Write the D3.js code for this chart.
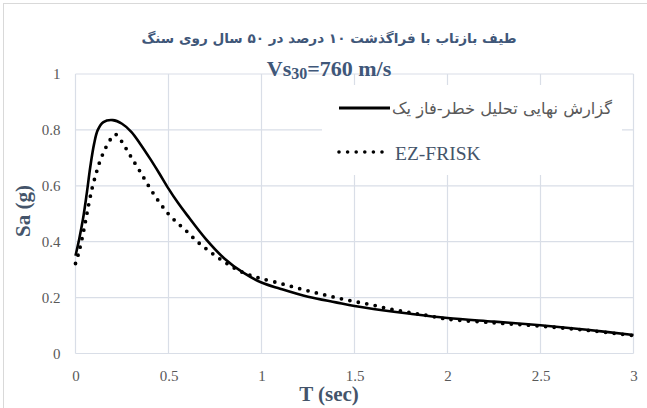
<!DOCTYPE html>
<html><head><meta charset="utf-8">
<script src="https://cdn.jsdelivr.net/npm/d3@7/dist/d3.min.js"></script>
<style>body{margin:0;background:#fff}svg{display:block}</style>
</head><body>
<svg id="c" width="647" height="408"></svg>
<script>
// ---- data ----
const reportT  = [0, 0.02, 0.04, 0.06, 0.08, 0.10, 0.12, 0.15, 0.20, 0.25, 0.30, 0.35, 0.40, 0.45, 0.50, 0.55, 0.60, 0.70, 0.80, 0.90, 1.00, 1.10, 1.25, 1.40, 1.50, 1.65, 1.80, 2.00, 2.25, 2.50, 2.75, 3.00];
const reportSa = [0.35, 0.41, 0.48, 0.57, 0.67, 0.75, 0.80, 0.828, 0.835, 0.822, 0.793, 0.748, 0.698, 0.645, 0.59, 0.54, 0.495, 0.41, 0.34, 0.29, 0.254, 0.232, 0.203, 0.183, 0.17, 0.155, 0.142, 0.127, 0.114, 0.101, 0.085, 0.066];
const ezT  = [0, 0.015, 0.03, 0.05, 0.07, 0.09, 0.11, 0.13, 0.16, 0.19, 0.215, 0.25, 0.28, 0.31, 0.35, 0.40, 0.45, 0.50, 0.55, 0.60, 0.65, 0.70, 0.75, 0.80, 0.85, 0.90, 0.95, 1.00, 1.10, 1.20, 1.30, 1.40, 1.50, 1.60, 1.70, 1.80, 1.90, 2.00, 2.25, 2.50, 2.75, 3.00];
const ezSa = [0.322, 0.355, 0.395, 0.46, 0.53, 0.593, 0.642, 0.685, 0.733, 0.768, 0.784, 0.757, 0.724, 0.691, 0.648, 0.592, 0.542, 0.499, 0.466, 0.436, 0.403, 0.376, 0.351, 0.328, 0.307, 0.29, 0.277, 0.268, 0.251, 0.233, 0.216, 0.2, 0.186, 0.173, 0.158, 0.146, 0.135, 0.123, 0.11, 0.098, 0.083, 0.064];
const xTicks = [0, 0.5, 1, 1.5, 2, 2.5, 3];
const yTicks = [0, 0.2, 0.4, 0.6, 0.8, 1];
const seriesNames = ["گزارش نهایی تحلیل خطر-فاز یک", "EZ-FRISK"];
const titleText = "طیف بازتاب با فراگذشت ۱۰ درصد در ۵۰ سال روی سنگ";
const xTitle = "T (sec)";
const yTitle = "Sa (g)";

// ---- drawing ----
const svg = d3.select("#c");
const grid = "#d9dee7", tickCol = "#595959", titleCol = "#3f5779", axisTitleCol = "#44546a";
const serif = "'Liberation Serif','DejaVu Serif',serif";
const arab = "'DejaVu Sans','Noto Sans',sans-serif";

svg.append("rect").attr("x",3.5).attr("y",3.5).attr("width",660).attr("height",420)
  .attr("fill","#fff").attr("stroke","#d9d9d9");

const x = d3.scaleLinear().domain([0,3]).range([75.5,633.5]);
const y = d3.scaleLinear().domain([0,1]).range([353.5,74]);

// gridlines
const g = svg.append("g");
g.selectAll(".vx").data(xTicks).join("line")
  .attr("x1",d=>x(d)).attr("x2",d=>x(d)).attr("y1",y(0)).attr("y2",y(1))
  .attr("stroke",grid).attr("stroke-width",1.2);
g.selectAll(".hy").data(yTicks).join("line")
  .attr("y1",d=>y(d)).attr("y2",d=>y(d)).attr("x1",x(0)).attr("x2",x(3))
  .attr("stroke",grid).attr("stroke-width",1.2);

// axes labels via d3 axis
const xa = svg.append("g").attr("transform",`translate(0,${y(0)})`)
  .call(d3.axisBottom(x).tickValues(xTicks).tickSize(0).tickPadding(17).tickFormat(d3.format("")));
const ya = svg.append("g").attr("transform",`translate(${x(0)},0)`)
  .call(d3.axisLeft(y).tickValues(yTicks).tickSize(0).tickPadding(15).tickFormat(d3.format("")));
[xa,ya].forEach(a=>{
  a.select(".domain").remove();
  a.selectAll("text").attr("fill",tickCol).style("font-family",serif).style("font-size","15px");
});

// title
svg.append("text").attr("x",329).attr("y",43).attr("text-anchor","middle")
  .attr("fill",titleCol).style("font-family",arab).style("font-weight","bold").style("font-size","13.6px")
  .attr("direction","rtl").text(titleText);
const sub = svg.append("text").attr("x",329).attr("y",76).attr("text-anchor","middle")
  .attr("fill",titleCol).style("font-family",serif).style("font-weight","bold").style("font-size","22px");
sub.append("tspan").text("Vs");
sub.append("tspan").attr("dy",3).style("font-size","16px").text("30");
sub.append("tspan").attr("dy",-3).text("=760 m/s");

// axis titles
svg.append("text").attr("transform",`translate(30,211) rotate(-90)`).attr("text-anchor","middle")
  .attr("fill",axisTitleCol).style("font-family",serif).style("font-weight","bold").style("font-size","21px").text(yTitle);
svg.append("text").attr("x",329).attr("y",401).attr("text-anchor","middle")
  .attr("fill",axisTitleCol).style("font-family",serif).style("font-weight","bold").style("font-size","21px").text(xTitle);

// lines
const line = d3.line().curve(d3.curveCatmullRom.alpha(0.5)).x(d=>x(d[0])).y(d=>y(d[1]));
svg.append("path").datum(ezT.map((t,i)=>[t,ezSa[i]])).attr("d",line)
  .attr("fill","none").attr("stroke","#000").attr("stroke-width",3.8)
  .attr("stroke-linecap","round").attr("stroke-dasharray","0 8.6");
svg.append("path").datum(reportT.map((t,i)=>[t,reportSa[i]])).attr("d",line)
  .attr("fill","none").attr("stroke","#000").attr("stroke-width",2.6);

// legend
svg.append("rect").attr("x",322).attr("y",85).attr("width",300).attr("height",90).attr("fill","#fff");
svg.append("line").attr("x1",339).attr("x2",390).attr("y1",108).attr("y2",108)
  .attr("stroke","#000").attr("stroke-width",2.8);
svg.append("line").attr("x1",339).attr("x2",386).attr("y1",152).attr("y2",152)
  .attr("stroke","#000").attr("stroke-width",3.6).attr("stroke-linecap","round").attr("stroke-dasharray","0 8.6");
const l1 = svg.append("text").attr("x",392).attr("y",108).attr("dominant-baseline","central")
  .attr("fill",tickCol).style("font-family",arab).style("font-size","14px").text(seriesNames[0]);
const w1 = l1.node().getComputedTextLength();
if (w1>0) l1.style("font-size",(14*220/w1).toFixed(2)+"px");
svg.append("text").attr("x",395).attr("y",153).attr("dominant-baseline","central")
  .attr("fill",axisTitleCol).style("font-family",serif).style("font-size","19.5px").text(seriesNames[1]);
</script>
</body></html>
